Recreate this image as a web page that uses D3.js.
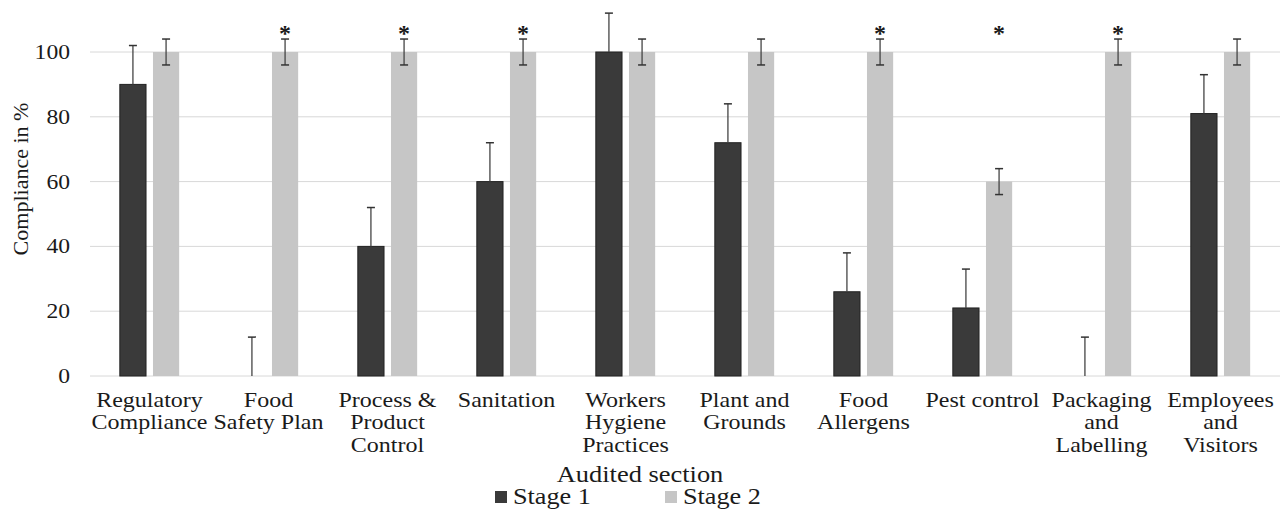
<!DOCTYPE html>
<html>
<head>
<meta charset="utf-8">
<script src="https://cdn.jsdelivr.net/npm/d3@7"></script>
<style>
  html, body { margin: 0; padding: 0; background: #fff; }
  svg { display: block; }
</style>
</head>
<body>
<svg id="chart" width="1284" height="515"></svg>
<script>
// ---- data ----
const categories = ["Regulatory Compliance", "Food Safety Plan", "Process & Product Control", "Sanitation",
  "Workers Hygiene Practices", "Plant and Grounds", "Food Allergens", "Pest control",
  "Packaging and Labelling", "Employees and Visitors"];
const tickLabelLines = [["Regulatory", "Compliance"], ["Food", "Safety Plan"], ["Process &", "Product", "Control"],
  ["Sanitation"], ["Workers", "Hygiene", "Practices"], ["Plant and", "Grounds"], ["Food", "Allergens"],
  ["Pest control"], ["Packaging", "and", "Labelling"], ["Employees", "and", "Visitors"]];
const seriesNames = ["Stage 1", "Stage 2"];
const stage1 = [90, 0, 40, 60, 100, 72, 26, 21, 0, 81];
const stage1Err = [12, 12, 12, 12, 12, 12, 12, 12, 12, 12];
const stage2 = [100, 100, 100, 100, 100, 100, 100, 60, 100, 100];
const stage2Err = [4, 4, 4, 4, 4, 4, 4, 4, 4, 4];
const significant = [false, true, true, true, false, false, true, true, true, false];
const yTicks = [0, 20, 40, 60, 80, 100];

// ---- layout ----
const FONT = "Liberation Serif";
const svg = d3.select("#chart");
const textColor = "#1a1a1a";
const colors = { "Stage 1": "#3a3a3a", "Stage 2": "#c6c6c6" };
const x = d3.scaleBand().domain(categories).range([90, 1280]).paddingInner(0).paddingOuter(0);
const xs = d3.scaleBand().domain(seriesNames).range([0, x.bandwidth()]).paddingInner(0.21).paddingOuter(0.9);
const y = d3.scaleLinear().domain([0, 100]).range([376, 52]);

// gridlines
svg.append("g").selectAll("line").data(yTicks).join("line")
  .attr("x1", 90).attr("x2", 1280)
  .attr("y1", d => y(d)).attr("y2", d => y(d))
  .attr("stroke", "#d8d8d8").attr("stroke-width", 1);

// y tick labels
svg.append("g").selectAll("text").data(yTicks).join("text")
  .attr("transform", d => `translate(70,${y(d) + 7}) scale(1.18,1)`)
  .attr("text-anchor", "end").attr("font-size", 20).attr("fill", textColor)
  .attr("font-family", FONT)
  .text(d => d);

// y title
svg.append("text")
  .attr("transform", "translate(28,179) rotate(-90)")
  .attr("text-anchor", "middle").attr("font-size", 22).attr("fill", textColor)
  .attr("font-family", FONT)
  .text("Compliance in %");

const rows = categories.map((c, i) => ({
  cat: c,
  vals: [
    { s: "Stage 1", v: stage1[i], e: stage1Err[i], both: false },
    { s: "Stage 2", v: stage2[i], e: stage2Err[i], both: true }
  ],
  sig: significant[i],
  lines: tickLabelLines[i]
}));

const groups = svg.append("g").selectAll("g").data(rows).join("g")
  .attr("transform", d => `translate(${x(d.cat)},0)`);

// bars
groups.selectAll("rect").data(d => d.vals).join("rect")
  .attr("x", d => xs(d.s))
  .attr("width", xs.bandwidth())
  .attr("y", d => y(d.v))
  .attr("height", d => y(0) - y(d.v))
  .attr("fill", d => colors[d.s])
  .attr("stroke", d => d.s === "Stage 1" ? "#222" : "none")
  .attr("stroke-width", 1);

// error bars
const eb = groups.selectAll("g.err").data(d => d.vals).join("g").attr("class", "err");
eb.append("line")
  .attr("x1", d => xs(d.s) + xs.bandwidth() / 2).attr("x2", d => xs(d.s) + xs.bandwidth() / 2)
  .attr("y1", d => y(d.v + d.e)).attr("y2", d => d.both ? y(d.v - d.e) : y(d.v))
  .attr("stroke", "#444").attr("stroke-width", 1.3);
eb.append("line")
  .attr("x1", d => xs(d.s) + xs.bandwidth() / 2 - 4).attr("x2", d => xs(d.s) + xs.bandwidth() / 2 + 4)
  .attr("y1", d => y(d.v + d.e)).attr("y2", d => y(d.v + d.e))
  .attr("stroke", "#333").attr("stroke-width", 1.5);
eb.filter(d => d.both).append("line")
  .attr("x1", d => xs(d.s) + xs.bandwidth() / 2 - 4).attr("x2", d => xs(d.s) + xs.bandwidth() / 2 + 4)
  .attr("y1", d => y(d.v - d.e)).attr("y2", d => y(d.v - d.e))
  .attr("stroke", "#333").attr("stroke-width", 1.5);

// significance stars
groups.filter(d => d.sig).append("text")
  .attr("x", xs("Stage 2") + xs.bandwidth() / 2)
  .attr("y", y(100) - 11)
  .attr("text-anchor", "middle").attr("font-size", 24).attr("font-weight", "bold").attr("fill", textColor)
  .attr("font-family", FONT)
  .text("*");

// x tick labels
const tl = groups.append("g").attr("transform", d => `translate(${x.bandwidth() / 2},407) scale(1.2,1)`);
tl.selectAll("text").data(d => d.lines).join("text")
  .attr("y", (d, i) => i * 22.5)
  .attr("text-anchor", "middle").attr("font-size", 20).attr("fill", textColor)
  .attr("font-family", FONT)
  .text(d => d);

// x title
svg.append("text")
  .attr("transform", "translate(640,482) scale(1.15,1)")
  .attr("text-anchor", "middle").attr("font-size", 23).attr("fill", textColor)
  .attr("font-family", FONT)
  .text("Audited section");

// legend
const legX = [495, 665];
const leg = svg.append("g").selectAll("g").data(seriesNames).join("g")
  .attr("transform", (d, i) => `translate(${legX[i]},0)`);
leg.append("rect").attr("x", 0).attr("y", 491).attr("width", 12).attr("height", 12)
  .attr("fill", d => colors[d]);
leg.append("text")
  .attr("transform", "translate(18,504) scale(1.14,1)")
  .attr("font-size", 23).attr("fill", textColor)
  .attr("font-family", FONT)
  .text(d => d);
</script>
</body>
</html>
